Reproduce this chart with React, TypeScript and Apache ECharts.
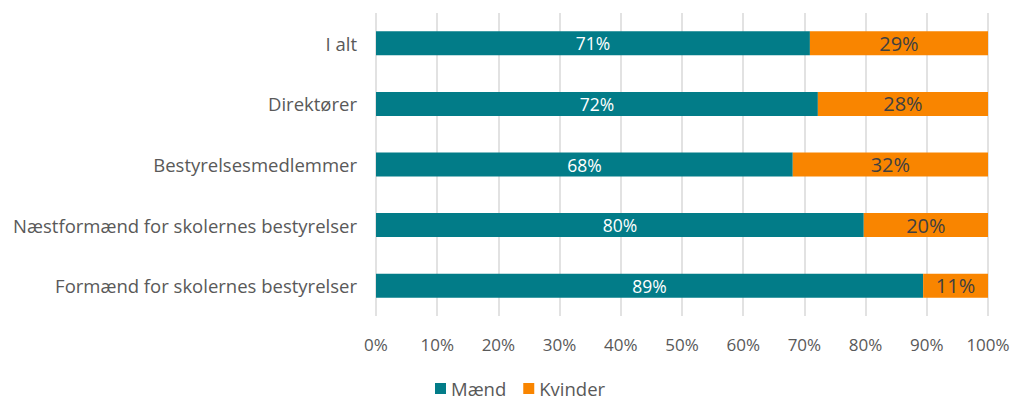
import React, { useEffect, useRef } from "react";
import * as echarts from "echarts";

const categories = [
  "I alt",
  "Direktører",
  "Bestyrelsesmedlemmer",
  "Næstformænd for skolernes bestyrelser",
  "Formænd for skolernes bestyrelser",
];
const maend = [70.9, 72.2, 68.1, 79.7, 89.4];
const kvinder = [29.1, 27.8, 31.9, 20.3, 10.6];
const xTicks = [0, 10, 20, 30, 40, 50, 60, 70, 80, 90, 100];

const FONT = "Open Sans";

export default function App() {
  const ref = useRef<HTMLDivElement>(null);
  useEffect(() => {
    if (!ref.current) return;
    const chart = echarts.init(ref.current, undefined, { renderer: "svg" });
    chart.setOption({
      animation: false,
      textStyle: { fontFamily: FONT },
      grid: { left: 376, right: 27, top: 13, bottom: 87, containLabel: false },
      legend: {
        top: 379,
        left: 435,
        padding: 0,
        itemWidth: 11,
        itemHeight: 11,
        itemGap: 17,
        icon: "rect",
        textStyle: { fontFamily: FONT, fontSize: 18.5, lineHeight: 19, color: "#595959" },
        data: ["Mænd", "Kvinder"],
      },
      xAxis: {
        type: "value",
        min: xTicks[0],
        max: xTicks[xTicks.length - 1],
        interval: 10,
        axisLine: { show: false },
        axisTick: { show: false },
        splitLine: { show: true, lineStyle: { color: "#d9d9d9", width: 1.5 } },
        axisLabel: {
          formatter: (v: number) => `${v}%`,
          fontFamily: FONT,
          fontSize: 17,
          color: "#595959",
          margin: 20,
        },
      },
      yAxis: {
        type: "category",
        data: categories,
        inverse: true,
        axisLine: { show: false },
        axisTick: { show: false },
        axisLabel: { fontFamily: FONT, fontSize: 18.5, color: "#595959", margin: 19 },
      },
      series: [
        {
          name: "Mænd",
          type: "bar",
          stack: "total",
          barWidth: 24,
          data: maend,
          itemStyle: { color: "#027C88" },
          label: {
            show: true,
            position: "inside",
            formatter: (p: any) => `${Math.round(p.value)}%`,
            color: "#ffffff",
            fontFamily: FONT,
            fontSize: 17.5,
          },
        },
        {
          name: "Kvinder",
          type: "bar",
          stack: "total",
          barWidth: 24,
          data: kvinder,
          itemStyle: { color: "#F98500" },
          label: {
            show: true,
            position: "inside",
            formatter: (p: any) => `${Math.round(p.value)}%`,
            color: "#404040",
            fontFamily: FONT,
            fontSize: 20,
          },
        },
      ],
    });
    return () => chart.dispose();
  }, []);
  return (
    <div
      ref={ref}
      style={{ position: "absolute", left: 0, top: 0, width: 1015, height: 403 }}
    />
  );
}
